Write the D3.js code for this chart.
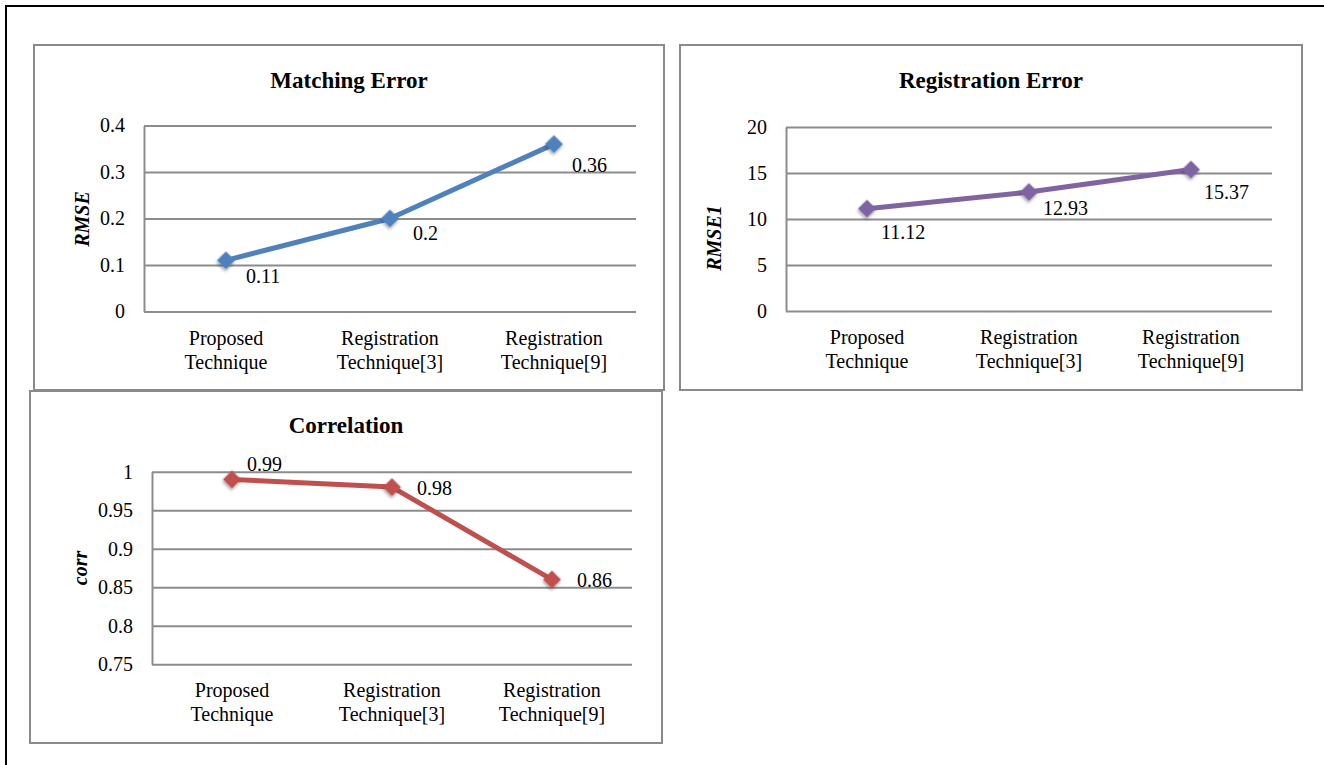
<!DOCTYPE html>
<html>
<head>
<meta charset="utf-8">
<script src="https://cdn.jsdelivr.net/npm/d3@7"></script>
<style>
  html, body { margin: 0; padding: 0; background: #fff; }
  svg { display: block; }
  svg text { font-family: "Liberation Serif", "Times New Roman", serif; fill: #000; }
</style>
</head>
<body>
<svg id="chart" width="1324" height="765"></svg>
<script>
// Categories shared by all three panels (two-line labels)
const categories = ["Proposed Technique", "Registration Technique[3]", "Registration Technique[9]"];
const categoryLines = [["Proposed", "Technique"], ["Registration", "Technique[3]"], ["Registration", "Technique[9]"]];

// Series values
const matchingValues = [0.11, 0.2, 0.36];
const registrationValues = [11.12, 12.93, 15.37];
const correlationValues = [0.99, 0.98, 0.86];

// Value-axis ticks
const matchingTicks = [0, 0.1, 0.2, 0.3, 0.4];
const registrationTicks = [0, 5, 10, 15, 20];
const correlationTicks = [0.75, 0.8, 0.85, 0.9, 0.95, 1];

// Data labels as printed
const matchingLabels = ["0.11", "0.2", "0.36"];
const registrationLabels = ["11.12", "12.93", "15.37"];
const correlationLabels = ["0.99", "0.98", "0.86"];

const FONT = "'Liberation Serif', 'Times New Roman', serif";

// Panel layout
const panels = [
  {
    title: "Matching Error", yTitle: "RMSE",
    values: matchingValues, ticks: matchingTicks, labels: matchingLabels,
    color: "#4F81BD",
    box: { x0: 34, y0: 45, x1: 664, y1: 390 },
    plot: { left: 144, right: 636, top: 125.5, bottom: 311.5 },
    titleY: 88, yTitlePos: [82, 219],
    labelOffsets: [[20, 23], [23, 21.5], [18, 28]]
  },
  {
    title: "Registration Error", yTitle: "RMSE1",
    values: registrationValues, ticks: registrationTicks, labels: registrationLabels,
    color: "#8064A2",
    box: { x0: 680, y0: 45, x1: 1302, y1: 390 },
    plot: { left: 786, right: 1272, top: 127, bottom: 311 },
    titleY: 88, yTitlePos: [714, 238],
    labelOffsets: [[14, 30], [14, 23], [13, 29]]
  },
  {
    title: "Correlation", yTitle: "corr",
    values: correlationValues, ticks: correlationTicks, labels: correlationLabels,
    color: "#C0504D",
    box: { x0: 30, y0: 391, x1: 662, y1: 743 },
    plot: { left: 152, right: 632, top: 471.7, bottom: 664.3 },
    titleY: 433, yTitlePos: [80, 568],
    labelOffsets: [[15, -8], [25, 8], [25, 7]]
  }
];

const svg = d3.select("#chart");

// Soft shadow under the markers
const defs = svg.append("defs");
const f = defs.append("filter").attr("id", "mshadow")
  .attr("x", "-50%").attr("y", "-50%").attr("width", "200%").attr("height", "200%");
f.append("feDropShadow").attr("dx", 1).attr("dy", 2).attr("stdDeviation", 1.4)
  .attr("flood-color", "#000").attr("flood-opacity", 0.35);

// Outer frame (top and left edges visible)
svg.append("path")
  .attr("d", "M6,765 L6,6 L1324,6")
  .attr("fill", "none").attr("stroke", "#000").attr("stroke-width", 2);

const gridColor = "#8c8c8c";

panels.forEach(p => {
  const g = svg.append("g").attr("font-family", FONT);

  // Panel border
  g.append("rect")
    .attr("x", p.box.x0).attr("y", p.box.y0)
    .attr("width", p.box.x1 - p.box.x0).attr("height", p.box.y1 - p.box.y0)
    .attr("fill", "#fff").attr("stroke", "#8a8a8a").attr("stroke-width", 2);

  // Title
  g.append("text")
    .attr("x", (p.box.x0 + p.box.x1) / 2).attr("y", p.titleY)
    .attr("text-anchor", "middle")
    .style("font-family", FONT)
    .style("font-size", "23px").style("font-weight", "bold")
    .text(p.title);

  const x = d3.scalePoint().domain(categories)
    .range([p.plot.left, p.plot.right]).padding(0.5);
  const y = d3.scaleLinear()
    .domain([p.ticks[0], p.ticks[p.ticks.length - 1]])
    .range([p.plot.bottom, p.plot.top]);

  // Value axis with gridlines
  const yAxis = d3.axisLeft(y)
    .tickValues(p.ticks)
    .tickFormat(d => String(d))
    .tickSize(-(p.plot.right - p.plot.left))
    .tickSizeOuter(0)
    .tickPadding(19);
  const ag = g.append("g").attr("transform", `translate(${p.plot.left},0)`).call(yAxis);
  ag.attr("font-family", FONT);
  ag.select(".domain").attr("stroke", gridColor).attr("stroke-width", 2);
  ag.selectAll(".tick line").attr("stroke", gridColor).attr("stroke-width", 2);
  ag.selectAll(".tick text")
    .attr("fill", "#000")
    .style("font-family", FONT)
    .style("font-size", "20px");

  // Category labels
  categories.forEach((c, i) => {
    const t = g.append("text")
      .attr("text-anchor", "middle")
      .style("font-family", FONT)
      .style("font-size", "20px");
    categoryLines[i].forEach((line, k) => {
      t.append("tspan")
        .attr("x", x(c))
        .attr("y", p.plot.bottom + 33 + k * 24)
        .text(line);
    });
  });

  // Axis title
  g.append("text")
    .attr("transform", `translate(${p.yTitlePos[0]},${p.yTitlePos[1]}) rotate(-90)`)
    .attr("text-anchor", "middle")
    .attr("dominant-baseline", "central")
    .style("font-family", FONT)
    .style("font-size", "20px").style("font-weight", "bold").style("font-style", "italic")
    .text(p.yTitle);

  const pts = categories.map((c, i) => ({ c, v: p.values[i], label: p.labels[i], off: p.labelOffsets[i] }));

  // Series line
  g.append("path")
    .datum(pts)
    .attr("d", d3.line().x(d => x(d.c)).y(d => y(d.v)))
    .attr("fill", "none")
    .attr("stroke", p.color)
    .attr("stroke-width", 5)
    .attr("stroke-linejoin", "round");

  // Diamond markers
  g.selectAll(".marker")
    .data(pts).join("path")
    .attr("class", "marker")
    .attr("d", d3.symbol(d3.symbolSquare, 162)())
    .attr("transform", d => `translate(${x(d.c)},${y(d.v)}) rotate(45)`)
    .attr("fill", p.color)
    .attr("filter", "url(#mshadow)");

  // Data labels
  g.selectAll(".dlabel")
    .data(pts).join("text")
    .attr("class", "dlabel")
    .attr("x", d => x(d.c) + d.off[0])
    .attr("y", d => y(d.v) + d.off[1])
    .style("font-family", FONT)
    .style("font-size", "20px")
    .text(d => d.label);
});
</script>
</body>
</html>
